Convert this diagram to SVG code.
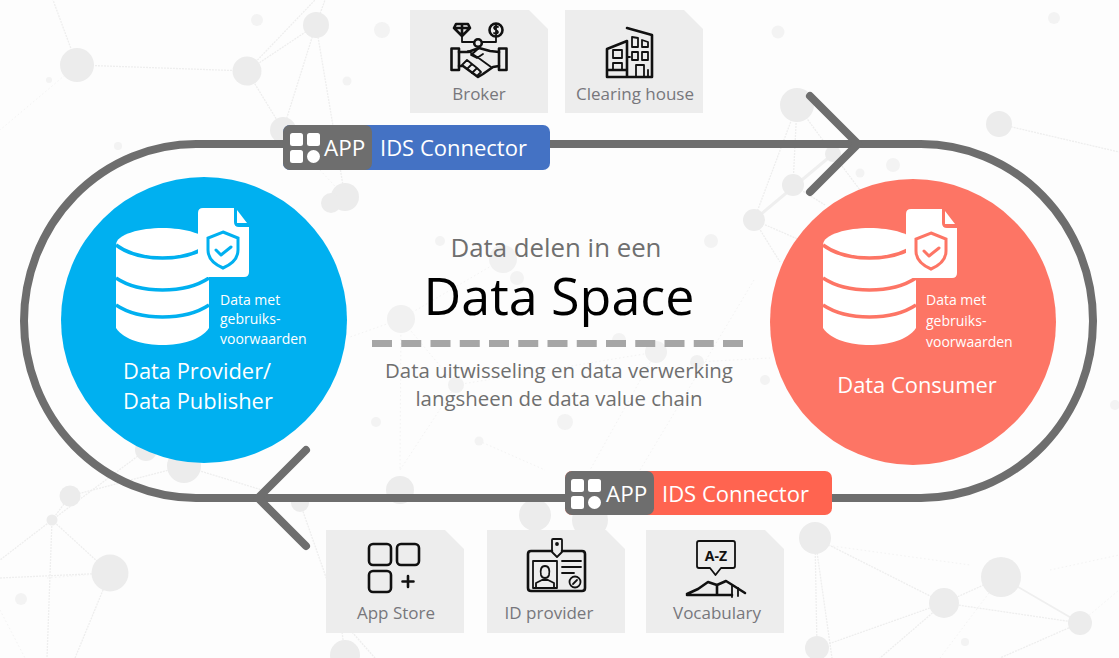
<svg xmlns="http://www.w3.org/2000/svg" width="1119" height="658" viewBox="0 0 1119 658">
<style>
text{font-family:"Open Sans","Noto Sans","Liberation Sans",sans-serif}
.net line{stroke:#eeeeee;stroke-width:1.3;stroke-dasharray:2 1}
.net .thick{stroke:#efefef;stroke-width:3;stroke-dasharray:none}
.net .faint{stroke:#f3f3f3;stroke-width:1;stroke-dasharray:1.500 2.500}
.net circle{fill:#ececec}
.net .dot{fill:#f3f3f3}
.net .soft{fill:#f1f1f1}
.card{fill:#ededed}
.cl{font-size:17px;fill:#77777c;text-anchor:middle}
.ic{fill:none;stroke:#111;stroke-width:2.600;stroke-linejoin:round;stroke-linecap:round}
.ic2{fill:none;stroke:#111;stroke-width:1.800;stroke-linejoin:round;stroke-linecap:round}
.track{fill:none;stroke:#6e6e6e;stroke-width:8;stroke-linecap:round;stroke-linejoin:round}
.small{font-size:14px;fill:#fff}
.big{font-size:21.900px;fill:#fff}
.conn{font-size:22px;fill:#fff}
.app{font-size:22.500px;fill:#fff}
.band{fill:none;stroke:currentColor;stroke-width:3.500}
</style>
<defs>
<path id="cardshape" d="M0 0H119L138 19V103H0Z"/>
<g id="db">
<path d="M0 17C0 6 25 0 46.500 0C68 0 93 6 93 17V100C85 112 65 117 46.500 117C28 117 8 112 0 100Z" fill="#fff"/>
<path class="band" d="M0 17C12 26 30 30 46.500 30C63 30 81 26 93 17"/>
<path class="band" d="M0 50C12 58 30 62 46.500 62C63 62 81 58 93 50"/>
<path class="band" d="M0 77C12 85 30 89 46.500 89C63 89 81 85 93 77"/>
</g>
<g id="doc">
<path d="M5 0H36V14Q36 19 41 19H51V64Q51 69 46 69H5Q0 69 0 64V5Q0 0 5 0Z" fill="#fff"/>
<path d="M39 2L49 15H39Z" fill="#fff"/>
<path d="M25 24L40 30V42C40 52 32 57 25 60C18 57 10 52 10 42V30Z" fill="none" stroke="currentColor" stroke-width="3"/>
<path d="M18 42L23 47L33 39" fill="none" stroke="currentColor" stroke-width="3" stroke-linecap="round" stroke-linejoin="round"/>
</g>
<g id="appicon">
<rect x="0" y="0" width="13" height="13" rx="2.500" fill="#fff"/>
<rect x="17" y="0" width="13" height="13" rx="2.500" fill="#fff"/>
<rect x="0" y="17" width="13" height="13" rx="2.500" fill="#fff"/>
<circle cx="23.500" cy="23.500" r="6.500" fill="#fff"/>
</g>
</defs>
<rect width="1119" height="658" fill="#fdfdfd"/>
<g id="background" class="net">
<line x1="77" y1="65" x2="53" y2="0"/><line x1="77" y1="65" x2="247" y2="71"/><line x1="247" y1="71" x2="316" y2="25"/><line x1="247" y1="71" x2="315" y2="0"/><line x1="247" y1="71" x2="283" y2="130"/><line x1="316" y1="25" x2="283" y2="130"/><line x1="316" y1="25" x2="345" y2="197"/><line x1="316" y1="25" x2="325" y2="0"/><line class="faint" x1="77" y1="65" x2="0" y2="130"/><line class="faint" x1="320" y1="170" x2="345" y2="197"/>
<line x1="797" y1="105" x2="793" y2="185"/><line x1="797" y1="105" x2="754" y2="220"/><line x1="797" y1="105" x2="833" y2="154"/><line class="thick" x1="833" y1="154" x2="754" y2="220"/><line x1="833" y1="154" x2="860" y2="190"/><line x1="793" y1="185" x2="825" y2="205"/><line x1="754" y1="220" x2="800" y2="240"/><line x1="754" y1="220" x2="780" y2="262"/><line x1="999" y1="124" x2="1119" y2="152"/>
<line class="faint" x1="503" y1="259" x2="401" y2="319"/><line class="faint" x1="401" y1="319" x2="350" y2="337"/><line class="faint" x1="401" y1="319" x2="456" y2="385"/><line class="faint" x1="456" y1="385" x2="400" y2="470"/><line class="faint" x1="656" y1="352" x2="456" y2="385"/><line class="faint" x1="697" y1="362" x2="770" y2="358"/><line class="faint" x1="656" y1="352" x2="590" y2="470"/><line class="faint" x1="479" y1="441" x2="545" y2="470"/><line class="faint" x1="401" y1="319" x2="400" y2="470"/><line class="faint" x1="754" y1="280" x2="640" y2="470"/>
<line x1="52" y1="520" x2="70" y2="496"/><line x1="52" y1="520" x2="146" y2="450"/><line x1="52" y1="520" x2="110" y2="573"/><line x1="52" y1="520" x2="0" y2="560"/><line x1="52" y1="520" x2="47" y2="658"/><line x1="110" y1="573" x2="0" y2="578"/><line x1="110" y1="573" x2="75" y2="658"/><line x1="70" y1="496" x2="184" y2="466"/><line x1="184" y1="466" x2="262" y2="490"/><line x1="300" y1="503" x2="327" y2="580"/><line class="faint" x1="0" y1="610" x2="25" y2="658"/><line class="faint" x1="47" y1="578" x2="110" y2="573"/><line x1="345" y1="655" x2="342" y2="632"/><line x1="352" y1="632" x2="375" y2="658"/>
<line x1="815" y1="538" x2="944" y2="603"/><line x1="815" y1="538" x2="817" y2="648"/><line x1="815" y1="538" x2="832" y2="658"/><line x1="944" y1="603" x2="1001" y2="577"/><line x1="944" y1="603" x2="1080" y2="623"/><line class="thick" x1="1001" y1="577" x2="1080" y2="623" style="stroke-width:1.800"/><line x1="944" y1="603" x2="817" y2="648"/><line x1="944" y1="603" x2="880" y2="658"/><line class="faint" x1="1001" y1="577" x2="940" y2="658"/><line x1="1080" y1="623" x2="1000" y2="658"/><line class="faint" x1="1080" y1="623" x2="1119" y2="590"/><line class="faint" x1="825" y1="545" x2="970" y2="565"/><line class="faint" x1="1050" y1="570" x2="1119" y2="555"/>
<circle cx="77" cy="65" r="17"/><circle cx="247" cy="71" r="14.500"/><circle cx="316" cy="25" r="13"/><circle cx="283" cy="130" r="13"/><circle cx="345" cy="197" r="14"/><circle cx="331" cy="203" r="10"/>
<circle class="dot" cx="257" cy="20" r="6"/><circle class="dot" cx="382" cy="30" r="8"/><circle class="dot" cx="347" cy="81" r="4.500"/><circle class="dot" cx="118" cy="146" r="4"/><circle class="dot" cx="49" cy="80" r="3"/>
<circle cx="797" cy="105" r="17"/><circle cx="833" cy="154" r="8"/><circle cx="793" cy="185" r="11"/><circle cx="754" cy="220" r="11"/><circle cx="999" cy="124" r="13"/>
<circle class="dot" cx="778" cy="32" r="6.500"/><circle class="dot" cx="1054" cy="18" r="6"/><circle class="dot" cx="893" cy="165" r="7"/><circle class="dot" cx="860" cy="173" r="4.500"/><circle class="dot" cx="711" cy="241" r="7"/>
<circle class="soft" cx="503" cy="259" r="14"/><circle class="soft" cx="401" cy="319" r="14"/><circle class="soft" cx="656" cy="352" r="11"/><circle class="soft" cx="697" cy="362" r="7"/><circle class="soft" cx="456" cy="385" r="8"/>
<circle class="dot" cx="440" cy="241" r="5"/><circle class="dot" cx="517" cy="278" r="7"/><circle class="dot" cx="619" cy="340" r="7"/><circle class="dot" cx="565" cy="422" r="8"/><circle class="dot" cx="376" cy="422" r="5"/><circle class="dot" cx="479" cy="441" r="4.500"/><circle class="dot" cx="765" cy="380" r="5"/>
<circle cx="70" cy="496" r="10.500"/><circle cx="52" cy="520" r="5.500"/><circle cx="110" cy="573" r="18.500"/><circle cx="146" cy="450" r="11"/><circle cx="184" cy="466" r="17"/><circle cx="300" cy="503" r="9"/><circle cx="400" cy="490" r="14"/><circle cx="345" cy="655" r="15"/><circle class="dot" cx="21" cy="599" r="6"/>
<circle cx="535" cy="515" r="16"/><circle cx="590" cy="520" r="18"/><circle cx="815" cy="538" r="16"/><circle cx="944" cy="603" r="15"/><circle cx="1001" cy="577" r="20"/><circle cx="1080" cy="623" r="12"/><circle cx="817" cy="648" r="12"/><circle class="dot" cx="965" cy="642" r="4"/><circle class="dot" cx="1115" cy="405" r="5"/>
</g>
<g id="connectors">
<path class="track" d="M196 144H921A172 177 0 0 1 921 498H196A172 177 0 0 1 196 144Z"/>
<path class="track" d="M810 96L858 144L810 192"/>
<path class="track" d="M306 450L258 498L306 546"/>
</g>
<g id="broker">
<use href="#cardshape" x="410" y="10" class="card"/>
<path class="ic" d="M451.500 48.500H459V70H451.500ZM506.500 48.500H499V70H506.500Z"/>
<path class="ic" d="M459 52H468L479 48L490 51L499 52M459 66H463L478 77L483 74L493 67L499 66"/>
<path class="ic2" d="M468 51L480 59L491 67M479 48L471 55L477 58L483 54M462 65L467 60L472 64L467 69M467 69L472 64L477 68L472 73M472 73L477 68L481 72L477 76"/>
<circle class="ic" cx="478" cy="43" r="3.800" fill="#ededed"/>
<path class="ic2" d="M462 35V42H474M496 37V42H482"/>
<path class="ic" d="M456 24H468L470 28L462 36L454 28ZM454 28H470M462 24V36"/>
<circle class="ic" cx="496" cy="30" r="6.500"/>
<path class="ic2" d="M498 27C495 25 492 28 496 30C500 32 497 35 494 33M496 24V36"/>
<text class="cl" x="479" y="99.500">Broker</text>
</g>
<g id="clearing-house">
<use href="#cardshape" x="565" y="10" class="card"/>
<path class="ic" d="M607 77V49L627 41V77M627 28L652 35V77H607M607 70H627"/>
<path class="ic2" d="M632 37L638 38V47H632ZM642 40L648 42V47H642ZM632 52H638V60H632ZM642 52H648V60H642ZM636 77V65H644V77M648 70V77M613 50H622V58H613ZM613 63H622V70H613ZM627 57H630"/>
<text class="cl" x="635" y="99.500">Clearing house</text>
</g>
<g id="app-store">
<use href="#cardshape" x="326" y="530" class="card"/>
<rect class="ic" x="369" y="544" width="22" height="21" rx="4"/><rect class="ic" x="397" y="544" width="22" height="21" rx="4"/><rect class="ic" x="369" y="571" width="22" height="21" rx="4"/>
<path class="ic" d="M408 576V587M402.500 581.500H413.500"/>
<text class="cl" x="396" y="618.500">App Store</text>
</g>
<g id="id-provider">
<use href="#cardshape" x="487" y="530" class="card"/>
<path class="ic" d="M552 551H531Q528 551 528 554V588Q528 591 531 591H582Q585 591 585 588V554Q585 551 582 551H562"/>
<path class="ic2" d="M552 540Q552 539 553 539H561Q562 539 562 540V552L557 557L552 552Z"/>
<circle class="ic2" cx="557" cy="544" r="1"/>
<rect class="ic2" x="533" y="561" width="24" height="27"/>
<path class="ic2" d="M536 588V583L542 580H548L554 583V588M545 566C541 566 540 570 541 575C542 579 548 579 549 575C550 570 549 566 545 566ZM562 561H581M562 567H581M562 573H574"/>
<circle class="ic2" cx="575" cy="582" r="5.500"/>
<path class="ic2" d="M573 584L577 580"/>
<text class="cl" x="549" y="618.500">ID provider</text>
</g>
<g id="vocabulary">
<use href="#cardshape" x="646" y="530" class="card"/>
<path class="ic2" d="M699 541H733Q735 541 735 543V566Q735 568 733 568H721L715.500 575L710 568H699Q697 568 697 566V543Q697 541 699 541Z"/>
<text x="716" y="561" font-size="14" font-weight="700" fill="#111" text-anchor="middle">A-Z</text>
<path class="ic" d="M687 594L698 589L708 582L717 585L726 581L734 586L745 593M687 595H732M717 585V594"/>
<path class="ic2" d="M732 586V597M738 588V596"/>
<text class="cl" x="717" y="618.500">Vocabulary</text>
</g>
<g id="connector-top">
<rect x="283" y="125" width="267" height="45" rx="7" fill="#4472c4"/>
<rect x="283" y="125" width="89" height="45" rx="7" fill="#6e6e6e"/>
<use href="#appicon" x="290" y="133"/>
<text class="app" x="324" y="156">APP</text>
<text class="conn" x="380" y="156">IDS Connector</text>
</g>
<g id="connector-bottom">
<rect x="565" y="471" width="267" height="44" rx="7" fill="#ff6450"/>
<rect x="565" y="471" width="89" height="44" rx="7" fill="#6e6e6e"/>
<use href="#appicon" x="571" y="479"/>
<text class="app" x="606" y="502">APP</text>
<text class="conn" x="662" y="502">IDS Connector</text>
</g>
<g id="data-provider" style="color:#00b0f0">
<circle cx="204" cy="320" r="143" fill="#00b0f0"/>
<use href="#db" x="116" y="228"/>
<use href="#doc" x="198" y="208"/>
<text class="small" x="220" y="305">Data met</text><text class="small" x="220" y="324">gebruiks-</text><text class="small" x="220" y="344">voorwaarden</text>
<text class="big" x="123" y="379">Data Provider/</text><text class="big" x="123" y="409">Data Publisher</text>
</g>
<g id="data-consumer" style="color:#fd7565">
<circle cx="913" cy="322" r="143" fill="#fd7565"/>
<use href="#db" x="823" y="228"/>
<use href="#doc" x="906" y="209"/>
<text class="small" x="926" y="305">Data met</text><text class="small" x="926" y="326">gebruiks-</text><text class="small" x="926" y="347">voorwaarden</text>
<text class="big" x="917" y="393" text-anchor="middle">Data Consumer</text>
</g>
<g id="center">
<text x="556" y="257" font-size="25.800" fill="#6f6f6f" text-anchor="middle">Data delen in een</text>
<text x="559" y="315" font-size="52" fill="#000" text-anchor="middle">Data Space</text>
<line x1="372" y1="343.500" x2="743" y2="343.500" stroke="#a6a6a6" stroke-width="7" stroke-dasharray="20 9.250"/>
<text x="559" y="378" font-size="20.400" fill="#6f6f6f" text-anchor="middle">Data uitwisseling en data verwerking</text>
<text x="559" y="406" font-size="20.400" fill="#6f6f6f" text-anchor="middle">langsheen de data value chain</text>
</g>
</svg>
